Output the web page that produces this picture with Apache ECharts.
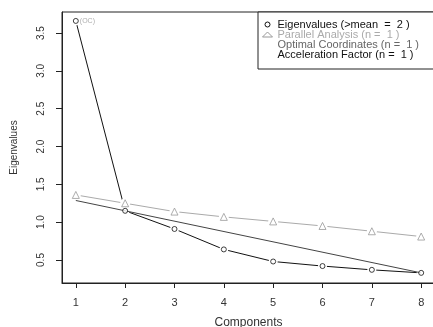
<!DOCTYPE html>
<html>
<head>
<meta charset="utf-8">
<script src="https://cdn.jsdelivr.net/npm/echarts@6/dist/echarts.min.js"></script>
<style>html,body{margin:0;padding:0;background:#fff;}#c{width:433px;height:327px;}</style>
</head>
<body>
<div id="c"></div>
<script>
const components = [1, 2, 3, 4, 5, 6, 7, 8];
const eigenvalues = [3.66, 1.15, 0.91, 0.64, 0.48, 0.42, 0.37, 0.33];
const parallelAnalysis = [1.36, 1.25, 1.14, 1.07, 1.01, 0.95, 0.88, 0.81];
const xTicks = [1, 2, 3, 4, 5, 6, 7, 8];
const yTicks = [0.5, 1.0, 1.5, 2.0, 2.5, 3.0, 3.5];
const legendNames = ['Eigenvalues (>mean  =  2 )', 'Parallel Analysis (n =  1 )', 'Optimal Coordinates (n =  1 )', 'Acceleration Factor (n =  1 )'];
const nOC = 1;
const nAF = 2;

// Optimal coordinates line: linear extrapolation through (nAF, eig) and last eigenvalue, back to component 1
const last = components.length - 1;
const slope = (eigenvalues[last] - eigenvalues[1]) / (components[last] - components[1]);
const ocLine = [
  [components[0], eigenvalues[1] - slope * (components[1] - components[0])],
  [components[last], eigenvalues[last]]
];

const eigPts = components.map((c, i) => [c, eigenvalues[i]]);
const paPts = components.map((c, i) => [c, parallelAnalysis[i]]);

const chart = echarts.init(document.getElementById('c'), null, {renderer: 'canvas'});
const font = 'Liberation Sans, Arial, sans-serif';
chart.setOption({
  animation: false,
  backgroundColor: '#fff',
  grid: {left: 62, top: 12, width: 373, height: 271, containLabel: false, outerBoundsMode: 'none',
    show: true, borderColor: '#222', borderWidth: 1, backgroundColor: 'transparent'},
  xAxis: {
    type: 'value', min: 0.72, max: 8.28,
    name: 'Components', nameLocation: 'middle', nameGap: 34,
    nameTextStyle: {fontFamily: font, fontSize: 12, color: '#333'},
    axisLine: {show: true, lineStyle: {color: '#222'}},
    axisTick: {show: true, length: 5, lineStyle: {color: '#222'}, customValues: xTicks},
    axisLabel: {show: true, customValues: xTicks, margin: 14, fontFamily: font, fontSize: 11, color: '#333'},
    splitLine: {show: false}
  },
  yAxis: {
    type: 'value', min: 0.196, max: 3.778,
    name: 'Eigenvalues', nameLocation: 'middle', nameGap: 43, nameRotate: 90,
    nameTextStyle: {fontFamily: font, fontSize: 10, color: '#333'},
    axisLine: {show: true, lineStyle: {color: '#222'}},
    axisTick: {show: true, length: 6, lineStyle: {color: '#222'}, customValues: yTicks},
    axisLabel: {show: true, customValues: yTicks, rotate: 90, margin: 16, fontFamily: font, fontSize: 10, color: '#333',
      formatter: v => v.toFixed(1)},
    splitLine: {show: false}
  },
  legend: {
    left: 258, top: 12, orient: 'vertical',
    padding: [7, 60, 9, 4], itemGap: -1, itemWidth: 10, itemHeight: 5,
    borderColor: '#222', borderWidth: 1, backgroundColor: '#fff',
    selectedMode: false,
    textStyle: {fontFamily: font, fontSize: 11, lineHeight: 10},
    data: [
      {name: legendNames[0], icon: 'circle', itemStyle: {color: '#fff', borderColor: '#111', borderWidth: 1}, textStyle: {color: '#111'}},
      {name: legendNames[1], icon: 'triangle', itemStyle: {color: '#fff', borderColor: '#999', borderWidth: 1}, textStyle: {color: '#aaa'}},
      {name: legendNames[2], icon: 'none', textStyle: {color: '#666'}},
      {name: legendNames[3], icon: 'none', textStyle: {color: '#111'}}
    ]
  },
  series: [
    {name: legendNames[1], type: 'line', z: 2, data: paPts, symbol: 'circle', symbolSize: 10, showSymbol: true,
      itemStyle: {color: '#fff', borderWidth: 0}, lineStyle: {color: '#aaa', width: 1}, silent: true},
    {name: legendNames[0], type: 'line', z: 2, data: eigPts, symbol: 'circle', symbolSize: 9, showSymbol: true,
      itemStyle: {color: '#fff', borderWidth: 0}, lineStyle: {color: '#111', width: 1}, silent: true},
    {name: legendNames[2], type: 'line', z: 3, data: ocLine, symbol: 'none', lineStyle: {color: '#444', width: 1}, silent: true},
    {name: legendNames[1], type: 'scatter', z: 6, data: paPts, symbol: 'triangle', symbolSize: 7,
      itemStyle: {color: '#fff', borderColor: '#999', borderWidth: 1}, silent: true},
    {name: legendNames[0], type: 'scatter', z: 7, symbol: 'circle', symbolSize: 5,
      itemStyle: {color: '#fff', borderColor: '#111', borderWidth: 1}, silent: true,
      data: eigPts.map((p, i) => components[i] === nOC ? {value: p, label: {show: true, formatter: '(OC)', position: 'right', distance: 1, fontSize: 7, color: '#999', fontFamily: font}} : p)},
    {name: legendNames[3], type: 'scatter', z: 7, symbol: 'none', silent: true,
      data: [{value: [nAF, eigenvalues[nAF - 1]], label: {show: true, formatter: '(AF)', position: 'right', distance: 3, offset: [0, -2], fontSize: 7, color: '#999', fontFamily: font}}]}
  ]
});
</script>
</body>
</html>
